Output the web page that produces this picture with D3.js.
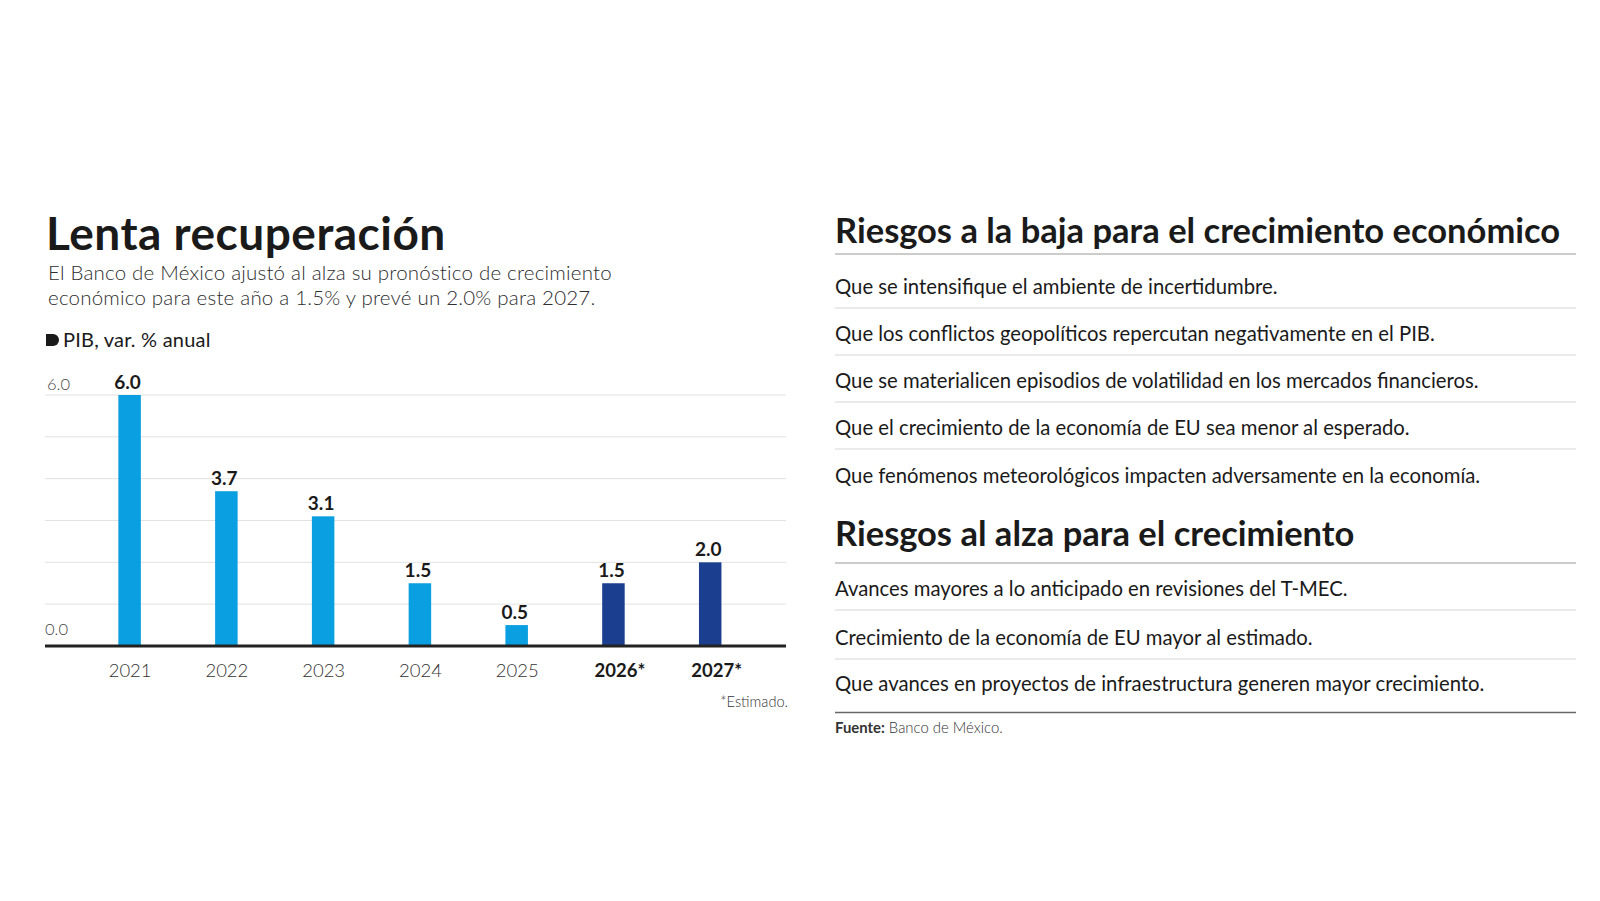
<!DOCTYPE html>
<html>
<head>
<meta charset="utf-8">
<script src="https://cdn.jsdelivr.net/npm/d3@7"></script>
<style>
  body { margin: 0; background: #fff; }
  svg { display: block; font-family: Lato, "Noto Sans", sans-serif; }
</style>
</head>
<body>
<div id="chart"></div>
<script>
// Data
const years = ["2021", "2022", "2023", "2024", "2025", "2026*", "2027*"];
const values = [6.0, 3.7, 3.1, 1.5, 0.5, 1.5, 2.0];
const estimated = [false, false, false, false, false, true, true];
const yTicks = [0, 6];

const downRisks = [
    "Que se intensifique el ambiente de incertidumbre.",
    "Que los conflictos geopolíticos repercutan negativamente en el PIB.",
    "Que se materialicen episodios de volatilidad en los mercados financieros.",
    "Que el crecimiento de la economía de EU sea menor al esperado.",
    "Que fenómenos meteorológicos impacten adversamente en la economía."
];
const upRisks = [
    "Avances mayores a lo anticipado en revisiones del T-MEC.",
    "Crecimiento de la economía de EU mayor al estimado.",
    "Que avances en proyectos de infraestructura generen mayor crecimiento."
];

const W = 1600, H = 901;
const svg = d3.select("#chart")
    .append("svg")
    .attr("width", W)
    .attr("height", H);

// ---- Left: header
svg.append("text")
    .attr("x", 46).attr("y", 250)
    .attr("font-size", 46).attr("font-weight", 700)
    .attr("fill", "#1a1a1a")
    .attr("letter-spacing", 0.5)
    .text("Lenta recuperación");

const sub = svg.append("text")
    .attr("font-size", 20.5).attr("font-weight", 300)
    .attr("letter-spacing", 0.2)
    .attr("fill", "#2e2e2e");
sub.append("tspan").attr("x", 48).attr("y", 280)
    .text("El Banco de México ajustó al alza su pronóstico de crecimiento");
sub.append("tspan").attr("x", 48).attr("y", 305)
    .text("económico para este año a 1.5% y prevé un 2.0% para 2027.");

// legend marker
svg.append("path")
    .attr("d", "M46,334 h7 a6,6 0 0 1 0,12 h-7 z")
    .attr("fill", "#1a1a1a");
svg.append("text")
    .attr("x", 63).attr("y", 347)
    .attr("font-size", 20).attr("font-weight", 400)
    .attr("letter-spacing", 0.2)
    .attr("fill", "#1a1a1a")
    .text("PIB, var. % anual");

// ---- Left: bar chart
const plot = { left: 45, right: 786, top: 395, bottom: 646 };

const x = d3.scalePoint()
    .domain(years)
    .range([129.6, 710.2]);

const y = d3.scaleLinear()
    .domain([0, 6])
    .range([plot.bottom, plot.top]);

const barW = 22.5;

// gridlines
svg.append("g")
    .selectAll("line")
    .data(d3.range(1, 7))
    .join("line")
    .attr("x1", plot.left).attr("x2", plot.right)
    .attr("y1", d => y(d)).attr("y2", d => y(d))
    .attr("stroke", "#e2e2e2").attr("stroke-width", 1);

// y tick labels
svg.append("g")
    .selectAll("text")
    .data(yTicks)
    .join("text")
    .attr("x", d => d === 0 ? plot.left : plot.left + 2)
    .attr("y", d => y(d) - (d === 0 ? 11 : 5))
    .attr("font-size", 16.5).attr("font-weight", 300)
    .attr("fill", "#444")
    .text(d => d.toFixed(1));

// bars
svg.append("g")
    .selectAll("rect")
    .data(years)
    .join("rect")
    .attr("x", d => x(d) - barW / 2)
    .attr("y", (d, i) => y(values[i]))
    .attr("width", barW)
    .attr("height", (d, i) => y(0) - y(values[i]))
    .attr("fill", (d, i) => estimated[i] ? "#1b3f8e" : "#0a9fe0");

// value labels
svg.append("g")
    .selectAll("text")
    .data(years)
    .join("text")
    .attr("x", d => x(d) - 2)
    .attr("y", (d, i) => y(values[i]) - 6)
    .attr("text-anchor", "middle")
    .attr("font-size", 19).attr("font-weight", 700)
    .attr("fill", "#1a1a1a")
    .text((d, i) => values[i].toFixed(1));

// x axis
const xAxis = d3.axisBottom(x).tickSize(0);
const gx = svg.append("g")
    .attr("transform", `translate(0,${plot.bottom})`)
    .call(xAxis);
gx.select(".domain").remove();
gx.append("line")
    .attr("x1", plot.left).attr("x2", plot.right)
    .attr("stroke", "#222").attr("stroke-width", 3);
gx.selectAll(".tick text")
    .attr("y", 30.5).attr("dy", 0)
    .attr("font-family", "Lato, sans-serif")
    .attr("font-size", 18.5)
    .attr("font-weight", (d, i) => estimated[i] ? 700 : 300)
    .attr("fill", (d, i) => estimated[i] ? "#1a1a1a" : "#333")
    .attr("dx", (d, i) => estimated[i] ? 6 : 0);

svg.append("text")
    .attr("x", 788).attr("y", 707)
    .attr("text-anchor", "end")
    .attr("font-size", 14.6).attr("font-weight", 300)
    .attr("fill", "#333")
    .text("*Estimado.");

// ---- Right: risk lists
const rx0 = 835, rx1 = 1576;

function riskBlock(title, titleY, ruleY, items, itemYs) {
    svg.append("text")
        .attr("x", rx0).attr("y", titleY)
        .attr("font-size", 34.5).attr("font-weight", 700)
        .attr("fill", "#1a1a1a")
        .text(title);
    svg.append("line")
        .attr("x1", rx0).attr("x2", rx1)
        .attr("y1", ruleY).attr("y2", ruleY)
        .attr("stroke", "#999").attr("stroke-width", 1);
    const g = svg.append("g");
    g.selectAll("text")
        .data(items)
        .join("text")
        .attr("x", rx0)
        .attr("y", (d, i) => itemYs[i])
        .attr("font-size", 20.3).attr("font-weight", 400)
        .attr("fill", "#1a1a1a")
        .text(d => d);
    g.selectAll("line")
        .data(items.slice(0, -1))
        .join("line")
        .attr("x1", rx0).attr("x2", rx1)
        .attr("y1", (d, i) => itemYs[i] + 14)
        .attr("y2", (d, i) => itemYs[i] + 14)
        .attr("stroke", "#d6d6d6").attr("stroke-width", 1);
}

riskBlock("Riesgos a la baja para el crecimiento económico", 243, 254,
    downRisks, [294, 341, 388, 435, 483]);
riskBlock("Riesgos al alza para el crecimiento", 546, 563,
    upRisks, [596, 645, 691]);

svg.append("line")
    .attr("x1", rx0).attr("x2", rx1)
    .attr("y1", 712.5).attr("y2", 712.5)
    .attr("stroke", "#666").attr("stroke-width", 1.5);

const src = svg.append("text")
    .attr("x", rx0).attr("y", 733)
    .attr("font-size", 14.9)
    .attr("fill", "#333");
src.append("tspan").attr("font-weight", 700).text("Fuente:");
src.append("tspan").attr("font-weight", 300).text(" Banco de México.");
</script>
</body>
</html>
